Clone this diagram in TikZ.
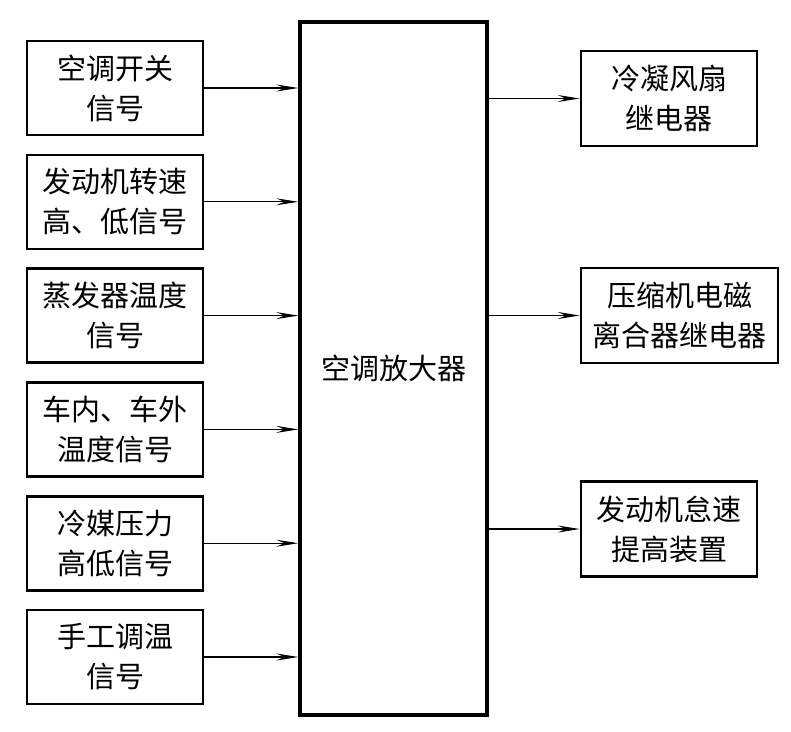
\documentclass[tikz,border=0pt]{standalone}
\usepackage{fontspec}
\setmainfont{Noto Sans CJK SC}
\usetikzlibrary{arrows.meta, positioning}
\tikzstyle{signal} = [rectangle, minimum width=176pt, minimum height=94pt, inner sep=0pt, text centered, align=center, draw=black, line width=2.6pt, fill=white]
\tikzstyle{output} = [rectangle, minimum width=176pt, minimum height=95pt, inner sep=0pt, text centered, align=center, draw=black, line width=2.6pt, fill=white]
\tikzstyle{amplifier} = [rectangle, minimum width=187pt, minimum height=693pt, text centered, draw=black, line width=3.4pt, fill=white]
\tikzstyle{arrow} = [line width=1.2pt, -{Stealth[length=22pt, width=7pt, inset=8pt]}]

\begin{document}
\begin{tikzpicture}[x=1pt, y=-1pt, node distance=113.8pt, font=\fontsize{29pt}{40pt}\selectfont]
    \useasboundingbox (0,0) rectangle (791,731);
    \node (amp) [amplifier] at (393.5,368.5) {空调放大器};

    % inputs
    \node (sw) [signal] at (115,88) {空调开关\\信号};
    \node (rpm) [signal, below of=sw] {发动机转速\\高、低信号};
    \node (evap) [signal, below of=rpm] {蒸发器温度\\信号};
    \node (temp) [signal, below of=evap] {车内、车外\\温度信号};
    \node (press) [signal, below of=temp] {冷媒压力\\高低信号};
    \node (manual) [signal, below of=press] {手工调温\\信号};

    % outputs
    \node (fan) [output] at (669,98.5) {冷凝风扇\\继电器};
    \node (clutch) [output, below of=fan, yshift=-103.2pt, xshift=10.5pt, minimum width=197pt] {压缩机电磁\\离合器继电器};
    \node (idle) [output, below of=clutch, yshift=-99.7pt, xshift=-10.5pt] {发动机怠速\\提高装置};

    \draw [arrow] (sw) -- (sw -| amp.west);
    \draw [arrow] (rpm) -- (rpm -| amp.west);
    \draw [arrow] (evap) -- (evap -| amp.west);
    \draw [arrow] (temp) -- (temp -| amp.west);
    \draw [arrow] (press) -- (press -| amp.west);
    \draw [arrow] (manual) -- (manual -| amp.west);

    \draw [arrow] (fan -| amp.east) -- (fan);
    \draw [arrow] (clutch -| amp.east) -- (clutch);
    \draw [arrow] (idle -| amp.east) -- (idle);
\end{tikzpicture}
\end{document}
